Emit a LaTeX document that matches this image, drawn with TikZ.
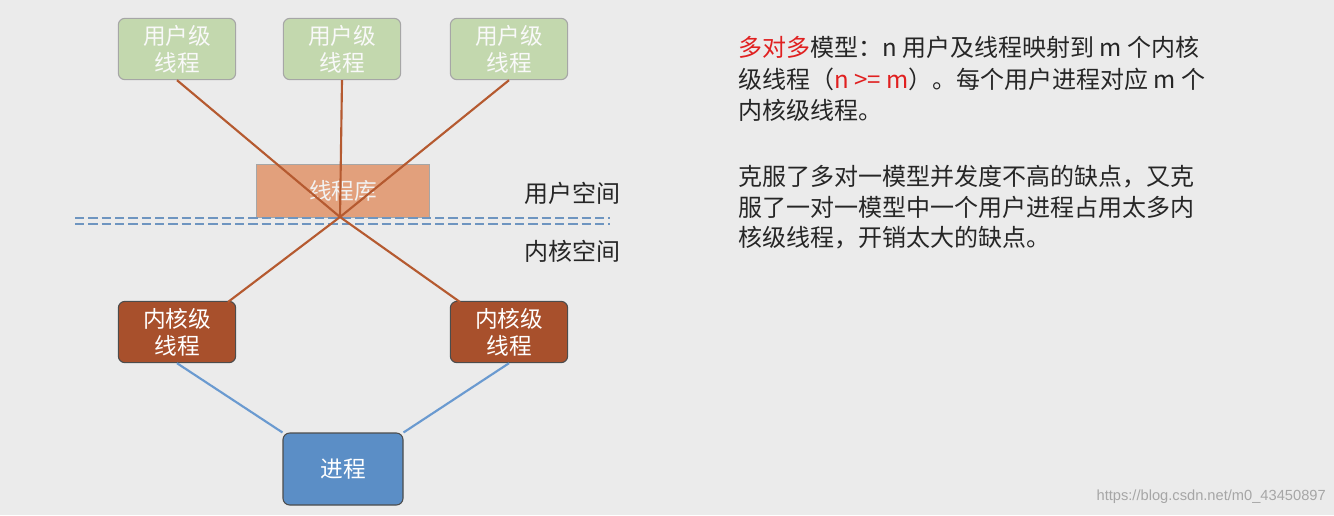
\documentclass[tikz,border=0pt]{standalone}
\usepackage{fontspec}
\setmainfont{Liberation Sans}
\newfontfamily\cjk{Noto Sans CJK SC}
\begin{document}
\begin{tikzpicture}[x=0.75pt,y=-0.75pt,
  box/.style={draw, rounded corners=5pt, line width=0.8pt, inner sep=0pt, align=center, font=\cjk\fontsize{17}{20}\selectfont, text=white},
  ubox/.style={box, fill=ugreen, draw=gray!70, minimum width=88pt, minimum height=46pt, text=white!95!gray},
  kbox/.style={box, fill=kred, draw=gray!60!black, minimum width=88pt, minimum height=46pt},
  link/.style={draw=lbrown, line width=1.6pt},
  blink/.style={draw=lblue, line width=1.6pt},
  txt/.style={anchor=west, font=\cjk\fontsize{18}{21}\selectfont, text=black!85, inner sep=0pt}]
\definecolor{ugreen}{HTML}{C3D8AE}
\definecolor{kred}{HTML}{A8502C}
\definecolor{lbrown}{HTML}{B55A30}
\definecolor{lblue}{HTML}{6A9AD0}
\definecolor{pblue}{HTML}{5B8EC6}
\definecolor{libc}{HTML}{E2A07C}
\definecolor{redt}{HTML}{E02020}
\fill[black!8] (0,0) rectangle (1334,515);
\useasboundingbox (0,0) rectangle (1334,515);
\node[ubox] (u1) at (177,49) {用户级\\线程};
\node[ubox] (u2) at (342,49) {用户级\\线程};
\node[ubox] (u3) at (509,49) {用户级\\线程};
\node[box, fill=libc, draw=gray!70, text=white!90!gray, rectangle, rounded corners=0pt, minimum width=130pt, minimum height=40pt] (lib) at (343,191) {线程库};
\coordinate (c) at (340,217);
\draw[draw=lblue!80!gray, line width=1.2pt, dash pattern=on 7pt off 3pt] (75,218) -- (610,218);
\draw[draw=lblue!80!gray, line width=1.2pt, dash pattern=on 7pt off 3pt] (75,224) -- (610,224);
\node[kbox] (k1) at (177,332) {内核级\\线程};
\node[kbox] (k2) at (509,332) {内核级\\线程};
\node[box, fill=pblue, draw=gray!60!black, minimum width=90pt, minimum height=54pt] (p) at (343,469) {进程};
\coordinate (k1t) at (228,302);
\coordinate (k2t) at (460,302);
\draw[link] (u1.south) -- (c);
\draw[link] (u2.south) -- (c);
\draw[link] (u3.south) -- (c);
\draw[link] (c) -- (k1t);
\draw[link] (c) -- (k2t);
\draw[blink] (k1.south) -- (p.north west);
\draw[blink] (k2.south) -- (p.north east);
\node[txt] (us) at (524,193) {用户空间};
\node[txt] (ks) at (524,251) {内核空间};
\node[txt] (t1) at (738,47) {\textcolor{redt}{多对多}模型：n 用户及线程映射到 m 个内核};
\node[txt] (t2) at (738,79) {级线程（\textcolor{redt}{n >= m}）。每个用户进程对应 m 个};
\node[txt] (t3) at (738,110) {内核级线程。};
\node[txt] (t4) at (738,177) {克服了多对一模型并发度不高的缺点，又克};
\node[txt] (t5) at (738,207) {服了一对一模型中一个用户进程占用太多内};
\node[txt] (t6) at (738,238) {核级线程，开销太大的缺点。};
\node[anchor=east, font=\fontsize{11}{13}\selectfont, text=black!35, inner sep=0pt] (wm) at (1326,497) {https://blog.csdn.net/m0\_43450897};
\end{tikzpicture}
\end{document}
